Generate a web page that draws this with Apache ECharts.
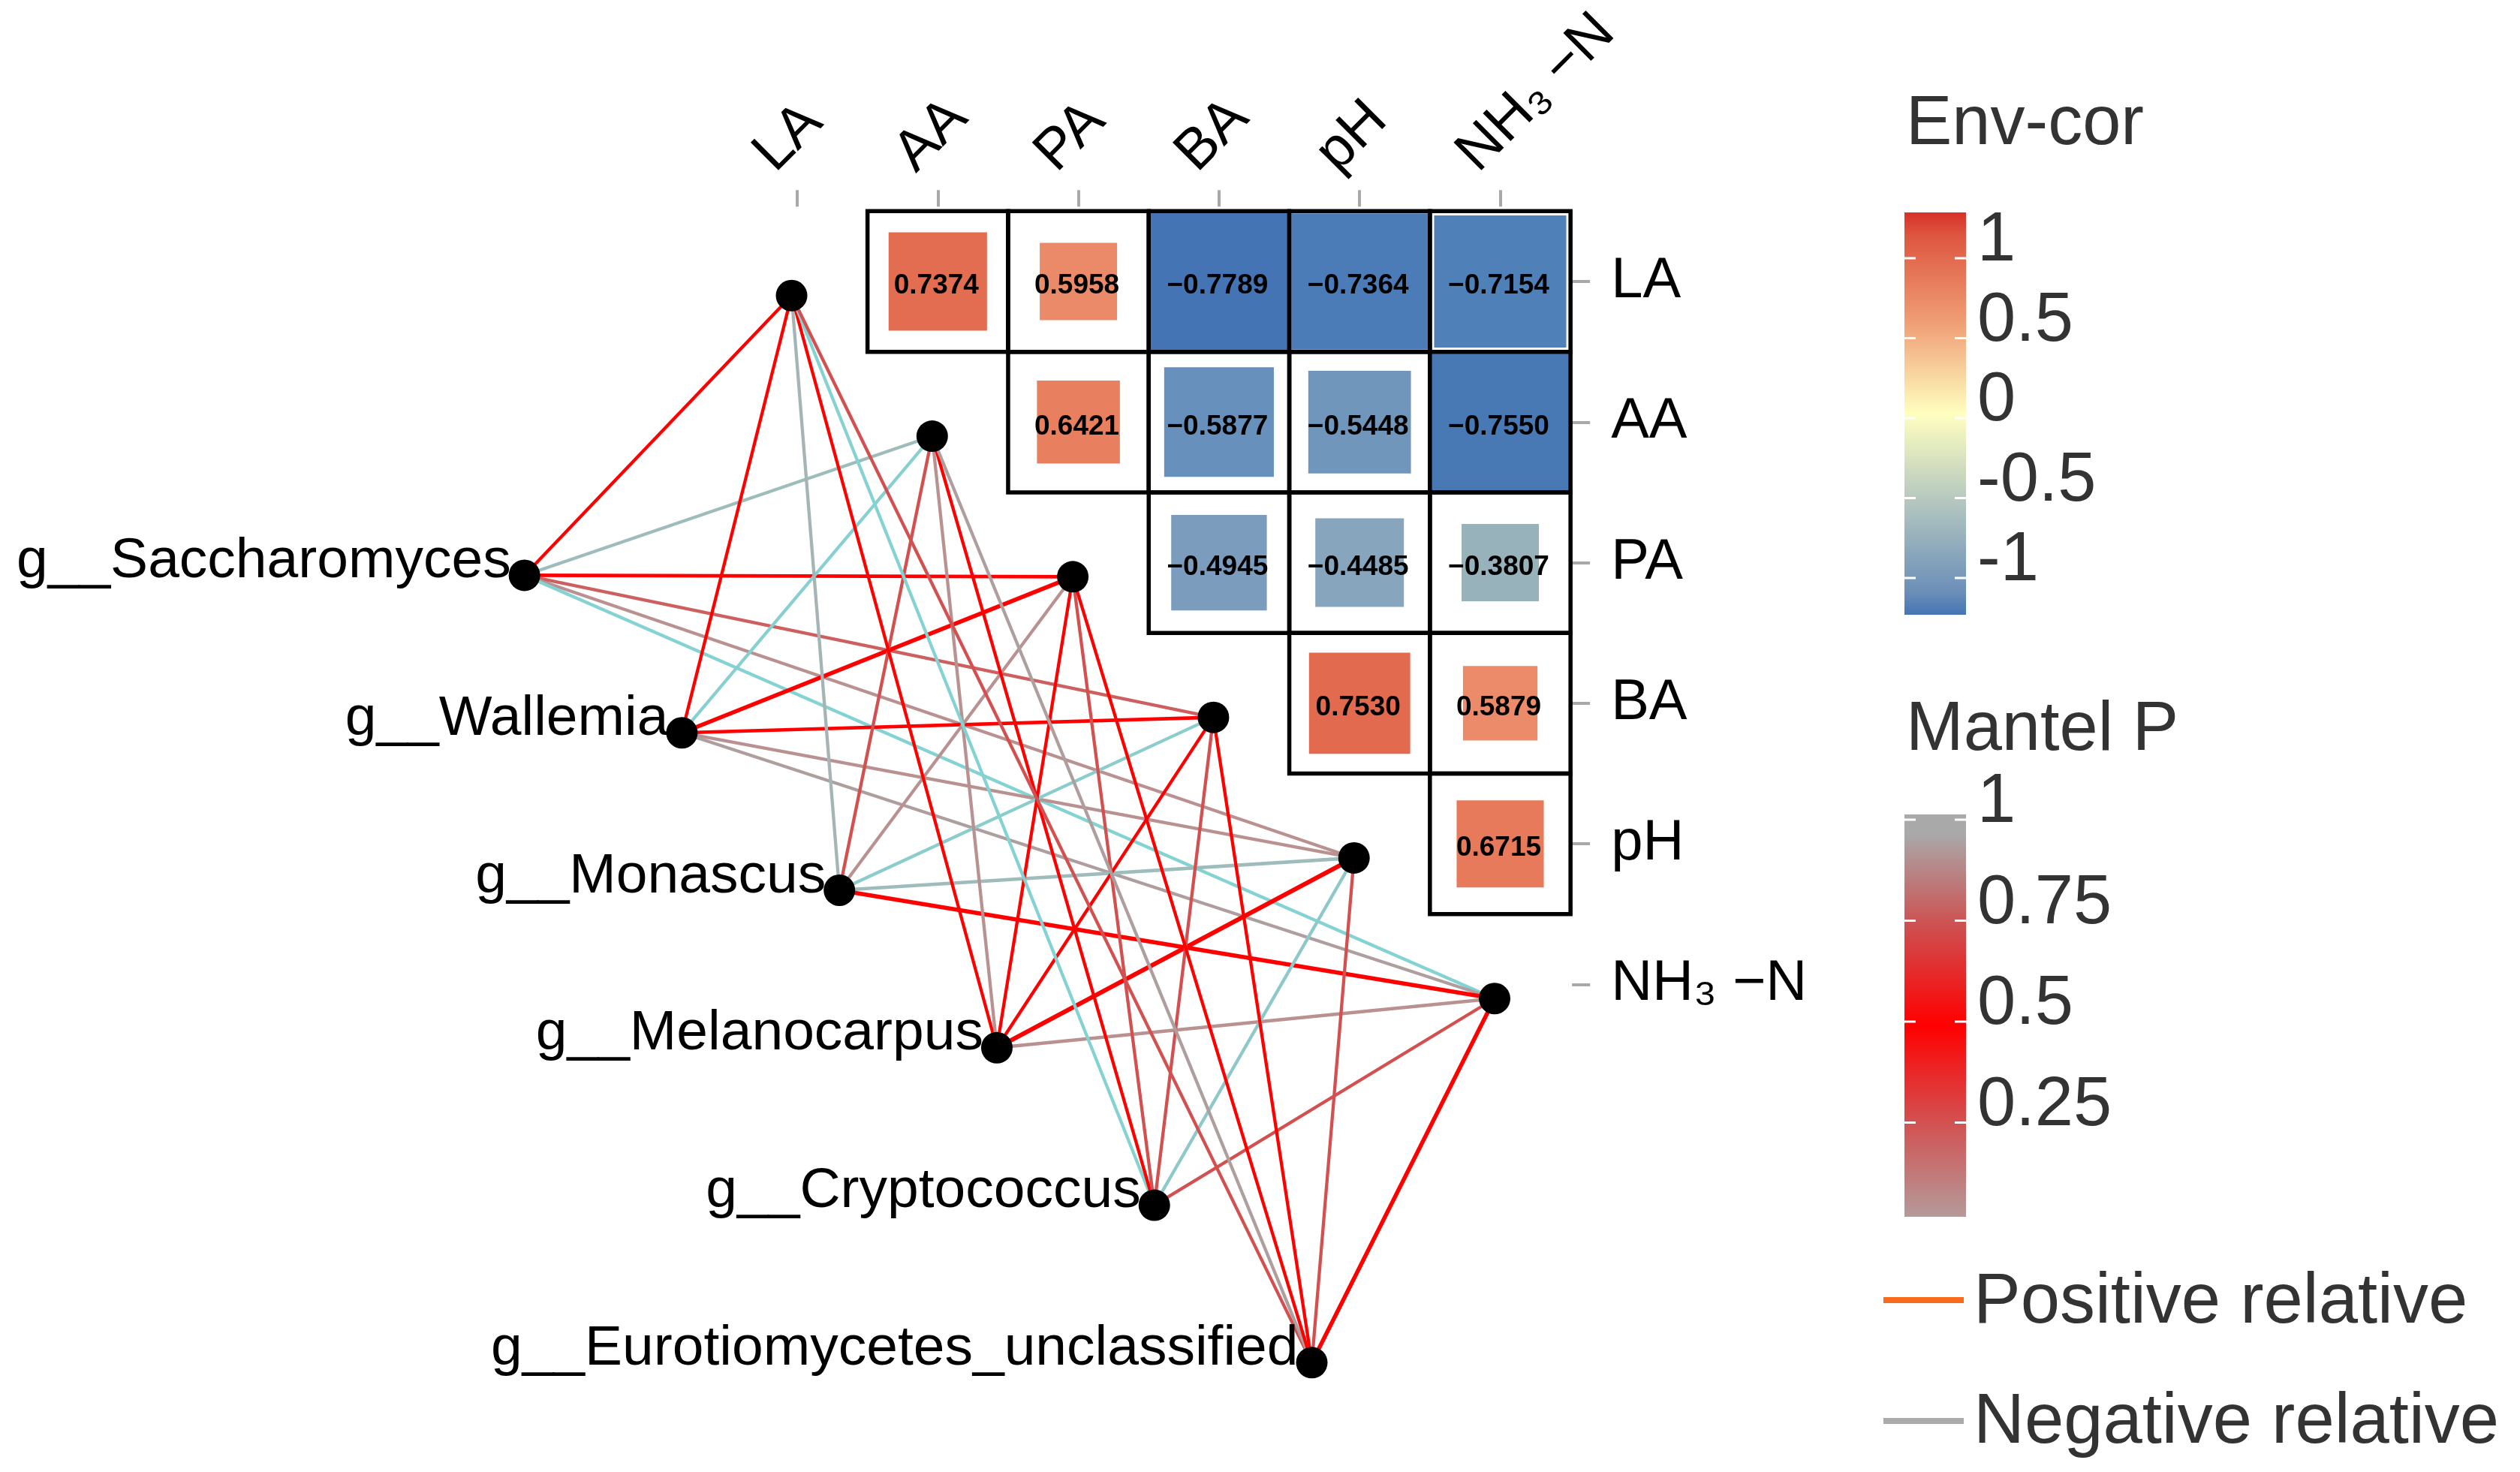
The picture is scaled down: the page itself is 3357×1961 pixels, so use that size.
<!DOCTYPE html>
<html><head><meta charset="utf-8">
<script src="https://cdn.jsdelivr.net/npm/echarts@6/dist/echarts.min.js"></script>
<style>html,body{margin:0;padding:0;background:#fff}#c{width:3357px;height:1961px}</style>
</head><body><div id="c"></div>
<script>
// ---------------- DATA ----------------
const envNames = ['LA', 'AA', 'PA', 'BA', 'pH', 'NH₃ −N'];
const genusNames = ['g__Saccharomyces', 'g__Wallemia', 'g__Monascus', 'g__Melanocarpus', 'g__Cryptococcus', 'g__Eurotiomycetes_unclassified'];
// upper-triangle environmental correlations: [rowIndex, colIndex, r]
const corrPairs = [
  [0,1,0.7374],[0,2,0.5958],[0,3,-0.7789],[0,4,-0.7364],[0,5,-0.7154],
  [1,2,0.6421],[1,3,-0.5877],[1,4,-0.5448],[1,5,-0.7550],
  [2,3,-0.4945],[2,4,-0.4485],[2,5,-0.3807],
  [3,4,0.7530],[3,5,0.5879],
  [4,5,0.6715]
];
// relative square size of each cell, same order as corrPairs
const cellSize = [0.70,0.55,1.0,0.97,0.94, 0.59,0.78,0.73,1.0, 0.68,0.63,0.55, 0.72,0.53, 0.62];
// Mantel test per genus (rows) x env (cols)
const mantelP = [
  [0.50,0.15,0.50,0.20,0.03,0.50],
  [0.50,0.45,0.50,0.50,0.03,0.97],
  [0.05,0.25,0.03,0.40,0.15,0.50],
  [0.50,0.03,0.50,0.50,0.50,0.03],
  [0.50,0.50,0.25,0.25,0.35,0.25],
  [0.25,0.97,0.50,0.50,0.25,0.50]
];
const mantelSign = [
  [1,-1,1,1,1,-1],
  [1,-1,1,1,1,1],
  [-1,1,1,-1,-1,1],
  [1,1,1,1,1,1],
  [-1,1,1,1,-1,1],
  [1,1,1,1,1,1]
];
const mantelR = [
  [0.30,0.30,0.35,0.30,0.30,0.30],
  [0.30,0.30,0.45,0.35,0.30,0.30],
  [0.30,0.30,0.30,0.30,0.35,0.45],
  [0.30,0.30,0.30,0.30,0.50,0.35],
  [0.30,0.30,0.30,0.30,0.30,0.30],
  [0.30,0.30,0.30,0.30,0.30,0.45]
];
const envTicks = [1, 0.5, 0, -0.5, -1];
const mantelTicks = [1, 0.75, 0.5, 0.25];

// ---------------- STYLE / LAYOUT ----------------
const FONT = '"Liberation Sans", Arial, Helvetica, sans-serif';
const U = 187.3, X0 = 1062, Y0 = 375;
const corrStops = [[-1,'#3b6db0'],[-0.78,'#4474b3'],[-0.72,'#4f7fb8'],[-0.59,'#6690bc'],[-0.5,'#7a9bbc'],[-0.38,'#98b2bb'],[0,'#ffffbf'],[0.59,'#eb8b69'],[0.67,'#e67a5a'],[0.75,'#e26b4e'],[1,'#d73027']];
const pStops = [[0,'#b59a9a'],[0.25,'#d35050'],[0.5,'#ff0000'],[0.75,'#cf4d4d'],[1,'#a9a9a9']];
const envLegendStops = [[1.13,'#d73027'],[1,'#de5640'],[0.5,'#f0a077'],[0,'#ffffbf'],[-0.5,'#b3c6bf'],[-1,'#6b8fb8'],[-1.13,'#4575b4']];

function hex(h){h=h.replace('#','');return [parseInt(h.substr(0,2),16),parseInt(h.substr(2,2),16),parseInt(h.substr(4,2),16)];}
function mix(a,b,t){const A=hex(a),B=hex(b);return 'rgb('+A.map((v,i)=>Math.round(v+(B[i]-v)*t)).join(',')+')';}
function scale(stops,v){
  const s=stops.slice().sort((a,b)=>a[0]-b[0]);
  if(v<=s[0][0])return mix(s[0][1],s[0][1],0);
  for(let i=1;i<s.length;i++){if(v<=s[i][0]){const t=(v-s[i-1][0])/(s[i][0]-s[i-1][0]);return mix(s[i-1][1],s[i][1],t);}}
  return mix(s[s.length-1][1],s[s.length-1][1],0);
}
function edgeColor(p,sign){
  if(sign>0)return scale(pStops,p);
  return mix('#84d2d2','#a9b2b2',Math.min(1,Math.abs(p-0.5)*2));
}
function fmt(v){return (v<0?'\u2212':'')+Math.abs(v).toFixed(4);}

// node positions (layout in cell units)
const envPos = envNames.map((n,i)=>[i-0.04, i+0.10]);
const genusPos = genusNames.map((n,k)=>[-1.94+1.12*k, 2.09+1.12*k]);

const edges=[];
genusNames.forEach((g,k)=>{
  envNames.forEach((e,j)=>{
    edges.push({coords:[genusPos[k],envPos[j]],lineStyle:{color:edgeColor(mantelP[k][j],mantelSign[k][j]),width:1.9+8*mantelR[k][j],opacity:1}});
  });
});

const heatData = corrPairs.map((p,i)=>[p[1],p[0],p[2],cellSize[i]]);

// legends
const graphics=[];
function legendBar(title,titleY,barY,barH,ticks,tickY0,tickStep,stops,valueAtTop,valueAtBottom){
  graphics.push({type:'text',x:2539,y:titleY,style:{text:title,font:'92px '+FONT,fill:'#333',align:'left',verticalAlign:'middle'},z:10});
  const gs=stops.map(s=>({offset:Math.max(0,Math.min(1,(valueAtTop-s[0])/(valueAtTop-valueAtBottom))),color:s[1]})).sort((a,b)=>a.offset-b.offset);
  graphics.push({type:'rect',shape:{x:2537,y:barY,width:82,height:barH},style:{fill:new echarts.graphic.LinearGradient(0,0,0,1,gs)},z:10});
  ticks.forEach((t,i)=>{
    const y=tickY0+i*tickStep;
    graphics.push({type:'line',shape:{x1:2537,y1:y,x2:2552,y2:y},style:{stroke:'#fff',lineWidth:3},z:11});
    graphics.push({type:'line',shape:{x1:2604,y1:y,x2:2619,y2:y},style:{stroke:'#fff',lineWidth:3},z:11});
    graphics.push({type:'text',x:2634,y:y-22,style:{text:String(t),font:'92px '+FONT,fill:'#333',align:'left',verticalAlign:'middle'},z:10});
  });
}
legendBar('Env-cor',167,283,536,envTicks,344,106.5,envLegendStops,1.13,-1.13);
legendBar('Mantel P',974,1085,536,mantelTicks,1092,134.5,pStops,1.05,0.0);
graphics.push({type:'line',shape:{x1:2509,y1:1732,x2:2616,y2:1732},style:{stroke:'#f86a1c',lineWidth:8},z:10});
graphics.push({type:'text',x:2629,y:1736,style:{text:'Positive relative',font:'94px '+FONT,fill:'#333',align:'left',verticalAlign:'middle'},z:10});
graphics.push({type:'line',shape:{x1:2509,y1:1893,x2:2616,y2:1893},style:{stroke:'#aaaaaa',lineWidth:8},z:10});
graphics.push({type:'text',x:2629,y:1896,style:{text:'Negative relative',font:'94px '+FONT,fill:'#333',align:'left',verticalAlign:'middle'},z:10});

const chart = echarts.init(document.getElementById('c'), null, {width:3357,height:1961});
chart.setOption({
  animation:false,
  backgroundColor:'#fff',
  grid:[
    {left:X0-5.4*U, top:Y0-2*U, width:10.9*U, height:10.4*U, containLabel:false, outerBoundsMode:'none'},
    {left:X0-0.5*U, top:Y0-0.5*U, width:6*U, height:6*U, containLabel:false, outerBoundsMode:'none'}
  ],
  xAxis:[
    {type:'value', gridIndex:0, min:-5.4, max:5.5, show:false},
    {type:'category', gridIndex:1, position:'top', data:envNames, offset:6,
      axisLine:{show:false}, axisTick:{show:true, alignWithLabel:true, length:22, lineStyle:{color:'#a8a8a8', width:4}},
      axisLabel:{show:false}, splitLine:{show:false}}
  ],
  yAxis:[
    {type:'value', gridIndex:0, min:-2, max:8.4, inverse:true, show:false},
    {type:'category', gridIndex:1, position:'right', inverse:true, data:envNames, offset:2,
      axisLine:{show:false}, axisTick:{show:true, alignWithLabel:true, length:24, lineStyle:{color:'#a8a8a8', width:4}},
      axisLabel:{show:true, margin:52, fontSize:76, fontFamily:FONT, color:'#000', align:'left'}, splitLine:{show:false}}
  ],
  series:[
    {type:'lines', coordinateSystem:'cartesian2d', xAxisIndex:0, yAxisIndex:0, polyline:false, silent:true, z:2, data:edges},
    {type:'custom', xAxisIndex:1, yAxisIndex:1, z:3, encode:{x:0,y:1}, data:heatData,
      renderItem:function(params,api){
        const c=api.coord([api.value(0),api.value(1)]);
        const sz=api.size([1,1]);
        const v=api.value(2), s=api.value(3);
        const w=sz[0]*s, h=sz[1]*s;
        return {type:'group',children:[
          {type:'rect',shape:{x:c[0]-w/2,y:c[1]-h/2,width:w,height:h},style:{fill:scale(corrStops,v)}},
          {type:'rect',shape:{x:c[0]-sz[0]/2,y:c[1]-sz[1]/2,width:sz[0],height:sz[1]},style:{fill:null,stroke:'#000',lineWidth:5.5}},
          {type:'text',x:c[0]-2,y:c[1]+6,style:{text:fmt(v),font:'bold 37px '+FONT,fill:'#000',align:'center',verticalAlign:'middle'}}
        ]};
      }},
    {type:'scatter', xAxisIndex:0, yAxisIndex:0, symbol:'circle', symbolSize:42, itemStyle:{color:'#000', opacity:1}, z:5, clip:false,
      data:envPos},
    {type:'scatter', xAxisIndex:0, yAxisIndex:0, symbol:'circle', symbolSize:42, itemStyle:{color:'#000', opacity:1}, z:5, clip:false,
      data:genusNames.map((n,k)=>({name:n,value:genusPos[k]})),
      label:{show:true, formatter:'{b}', position:'left', distance:0, offset:[3,-18], fontSize:75, fontFamily:FONT, color:'#000', opacity:1}},
    {type:'scatter', xAxisIndex:0, yAxisIndex:0, symbolSize:1, itemStyle:{color:'rgba(0,0,0,0)'}, z:5, clip:false, silent:true,
      data:envNames.map((n,i)=>({name:n,value:[i-0.09,-0.70]})),
      label:{show:true, formatter:'{b}', position:[0,0], align:'left', verticalAlign:'bottom', rotate:45, fontSize:76, fontFamily:FONT, color:'#000', opacity:1}}
  ],
  graphic:graphics
});
</script></body></html>
